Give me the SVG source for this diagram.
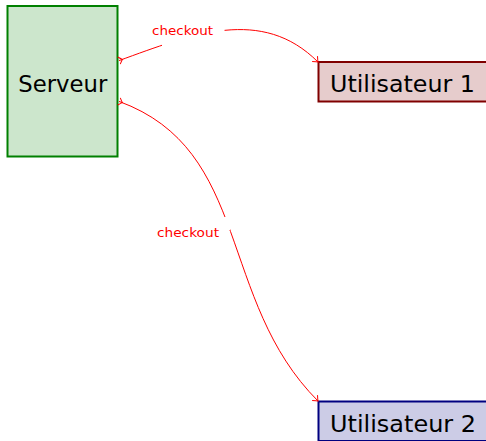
<svg xmlns="http://www.w3.org/2000/svg" width="486" height="441" viewBox="0 0 486 441">
<style>
.lbl{font-family:"DejaVu Sans","Liberation Sans",sans-serif;font-size:23px;fill:#000}
.ck{font-family:"DejaVu Sans","Liberation Sans",sans-serif;font-size:13px;fill:#ff0000}
.edge{fill:none;stroke:#ff0000;stroke-width:1}
</style>
<defs>
<marker id="tip" markerUnits="userSpaceOnUse" viewBox="-6 -5 7 10" refX="0" refY="0" markerWidth="7" markerHeight="10" orient="auto" overflow="visible">
<path d="M-4.5,-3.8 Q-1,-0.6 0,0 Q-1,0.6 -4.5,3.8" fill="none" stroke="#ff0000" stroke-width="1"/>
</marker>
<marker id="tail" markerUnits="userSpaceOnUse" viewBox="-1 -5 7 10" refX="0" refY="0" markerWidth="7" markerHeight="10" orient="auto" overflow="visible">
<path d="M0,-3.8 Q2.8,-0.6 3.6,0 Q2.8,0.6 0,3.8" fill="none" stroke="#ff0000" stroke-width="1"/>
</marker>
</defs>
<g id="serveur">
<rect x="7.5" y="6" width="110" height="150.5" fill="#cce6cc" stroke="#008000" stroke-width="2"/>
<text class="lbl" x="18.3" y="91.7" textLength="89" lengthAdjust="spacingAndGlyphs">Serveur</text>
</g>
<g id="utilisateur1">
<rect x="318.5" y="62" width="200" height="39.5" fill="#e6cccc" stroke="#800000" stroke-width="2"/>
<text class="lbl" x="330" y="91.7" textLength="145" lengthAdjust="spacingAndGlyphs">Utilisateur 1</text>
</g>
<g id="utilisateur2">
<rect x="318.5" y="401.5" width="200" height="39.5" fill="#ccccE6" stroke="#000080" stroke-width="2"/>
<text class="lbl" x="330" y="431.7" textLength="146" lengthAdjust="spacingAndGlyphs">Utilisateur 2</text>
</g>
<g id="connectors">
<path class="edge" d="M119,60.6 C192,34 262,6 318,62" marker-start="url(#tail)" marker-end="url(#tip)"/>
<path class="edge" d="M119,101.4 C252,150 217,300 318,401" marker-start="url(#tail)" marker-end="url(#tip)"/>
<rect x="162" y="22" width="62.5" height="26" fill="#fff"/>
<rect x="150" y="217" width="80" height="13" fill="#fff"/>
<text class="ck" x="152" y="35" textLength="61" lengthAdjust="spacingAndGlyphs">checkout</text>
<text class="ck" x="157" y="237" textLength="62" lengthAdjust="spacingAndGlyphs">checkout</text>
</g>
</svg>
